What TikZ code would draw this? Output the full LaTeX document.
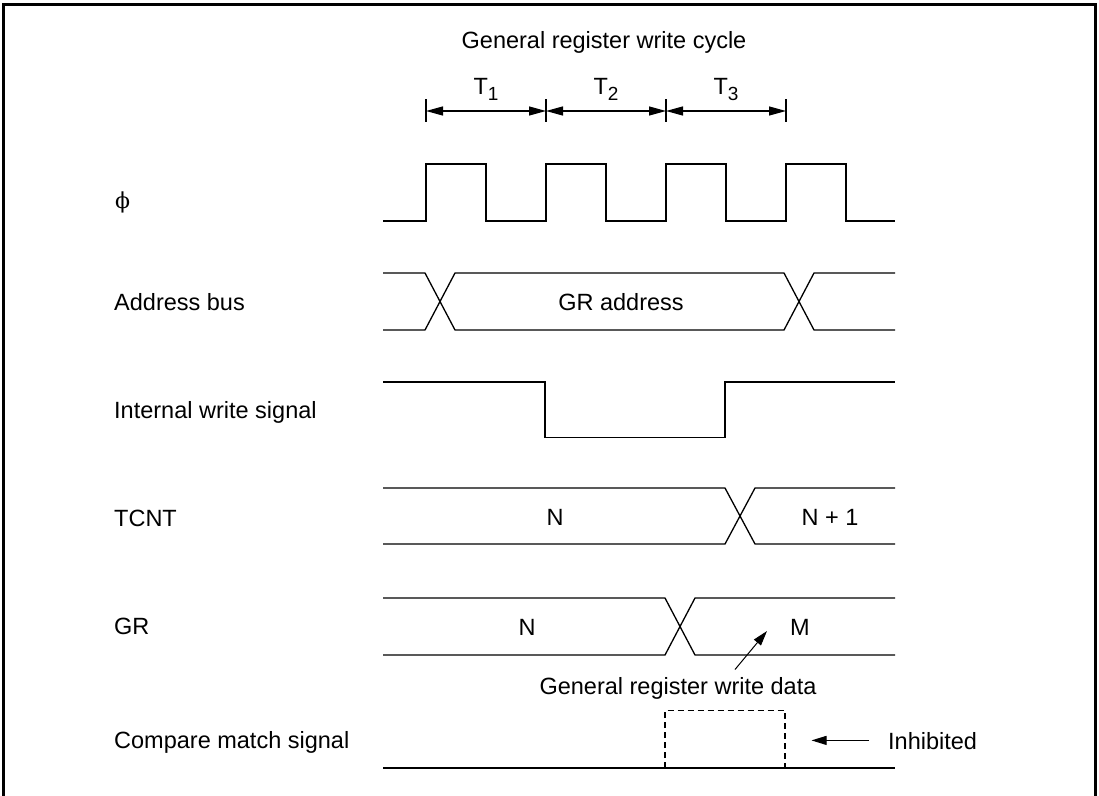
\documentclass[tikz,border=0pt]{standalone}
\usepackage{fontspec}
\setmainfont{Liberation Sans}
\newfontfamily\phifont{DejaVu Serif}
\usetikzlibrary{arrows.meta}
\begin{document}
\begin{tikzpicture}[x=1pt,y=-1pt,
  sig/.style={line width=1.3pt, line join=miter},
  frame/.style={line width=3pt},
  lab/.style={anchor=base west, inner sep=0pt, font=\fontsize{23.5}{28}\selectfont},
  txt/.style={anchor=base, inner sep=0pt, font=\fontsize{23.5}{28}\selectfont},
  tick/.style={line width=1.3pt},
  dimarrow/.style={line width=1.3pt, {Triangle[length=17pt,width=9pt]}-{Triangle[length=17pt,width=9pt]}},
  ptr/.style={line width=1pt, -{Triangle[length=15pt,width=9pt]}},
  dashbox/.style={line width=1.2pt, dash pattern=on 6pt off 4pt}
]
\useasboundingbox (0,0) rectangle (1099,795);
\draw[frame] (3,800) -- (3,4) -- (1095,4) -- (1095,800);

% title and cycle dimensions
\node[txt] (title) at (604,48) {General register write cycle};
\foreach \x/\n in {426/a,546/b,666/c,786/d} {
  \coordinate (t\n) at (\x,111);
  \draw[tick] (\x,99) -- (\x,122);
}
\draw[dimarrow] (ta) -- (tb);
\draw[dimarrow] (tb) -- (tc);
\draw[dimarrow] (tc) -- (td);
\node[txt] (T1) at (486,94) {T\raisebox{-6pt}{\fontsize{19}{19}\selectfont 1}};
\node[txt] (T2) at (606,94) {T\raisebox{-6pt}{\fontsize{19}{19}\selectfont 2}};
\node[txt] (T3) at (726,94) {T\raisebox{-6pt}{\fontsize{19}{19}\selectfont 3}};

% row labels
\node[lab] (lphi) at (115,208) {\phifont\fontsize{22}{26}\selectfont ϕ};
\node[lab] (laddr) at (114,310) {Address bus};
\node[lab] (lwr) at (114,418) {Internal write signal};
\node[lab] (ltcnt) at (114,526) {TCNT};
\node[lab] (lgr) at (114,634) {GR};
\node[lab] (lcmp) at (114,748) {Compare match signal};

% phi clock
\draw[sig] (383,221) -- (426,221) -- (426,164) -- (486,164) -- (486,221)
  -- (546,221) -- (546,164) -- (606,164) -- (606,221)
  -- (666,221) -- (666,164) -- (726,164) -- (726,221)
  -- (786,221) -- (786,164) -- (846,164) -- (846,221) -- (895,221);

% address bus
\draw[sig] (383,273) -- (425,273) -- (455,330) -- (784,330) -- (814,273) -- (895,273);
\draw[sig] (383,330) -- (425,330) -- (455,273) -- (784,273) -- (814,330) -- (895,330);
\node[txt] (graddr) at (621,310) {GR address};

% internal write signal
\draw[sig] (383,382) -- (545,382) -- (545,437.5) -- (725,437.5) -- (725,382) -- (895,382);

% TCNT
\draw[sig] (383,488) -- (725,488) -- (755,544) -- (895,544);
\draw[sig] (383,544) -- (725,544) -- (755,488) -- (895,488);
\node[txt] (tcntN) at (555,525) {N};
\node[txt] (tcntN1) at (830,525) {N + 1};

% GR
\draw[sig] (383,598) -- (665,598) -- (695,655) -- (895,655);
\draw[sig] (383,655) -- (665,655) -- (695,598) -- (895,598);
\node[txt] (grN) at (527,635) {N};
\node[txt] (grM) at (800,635) {M};
\node[txt] (wdata) at (678,694) {General register write data};
\coordinate (wstart) at (735,669.5);
\coordinate (wtip) at (767,631);
\draw[ptr] (wstart) -- (wtip);

% compare match signal
\draw[sig] (383,768) -- (895,768);
\draw[dashbox] (665,768) -- (665,710.5) -- (785,710.5) -- (785,768);
\node[lab] (inh) at (888,749) {Inhibited};
\coordinate (istart) at (869,740.4);
\coordinate (itip) at (811.5,740.4);
\draw[ptr] (istart) -- (itip);
\end{tikzpicture}
\end{document}
